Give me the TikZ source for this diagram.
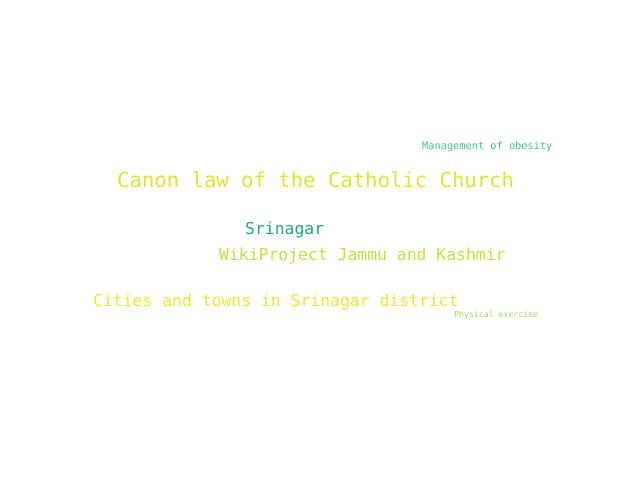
\documentclass[tikz,border=0pt]{standalone}
\usepackage{fontspec}
\newfontfamily\cloudfont{DejaVu Sans Mono}
\definecolor{cCanon}{HTML}{DFE23A}
\definecolor{cSrin}{HTML}{26A28A}
\definecolor{cMgmt}{HTML}{4AC18A}
\definecolor{cWiki}{HTML}{C2DF45}
\definecolor{cCities}{HTML}{EFE33A}
\definecolor{cPhys}{HTML}{A0D862}
\tikzset{word/.style={inner sep=0pt, anchor=base west, font=\cloudfont}}
\begin{document}
\begin{tikzpicture}[x=1pt,y=-1pt]
\useasboundingbox[fill=white] (0,0) rectangle (640,480);
\node[word, text=cMgmt, font=\cloudfont\fontsize{10.3}{12}\selectfont] (mgmt) at (422,149) {Management of obesity};
\node[word, text=cCanon, font=\cloudfont\fontsize{20.6}{24}\selectfont] (canon) at (117,187) {Canon law of the Catholic Church};
\node[word, text=cSrin, font=\cloudfont\fontsize{16.4}{20}\selectfont] (srin) at (245,234) {Srinagar};
\node[word, text=cWiki, font=\cloudfont\fontsize{16.4}{20}\selectfont] (wiki) at (219,260) {WikiProject Jammu and Kashmir};
\node[word, text=cCities, font=\cloudfont\fontsize{16.4}{20}\selectfont] (cities) at (93,306) {Cities and towns in Srinagar district};
\node[word, text=cPhys, font=\cloudfont\fontsize{8.2}{10}\selectfont] (phys) at (454,317) {Physical exercise};
\end{tikzpicture}
\end{document}
